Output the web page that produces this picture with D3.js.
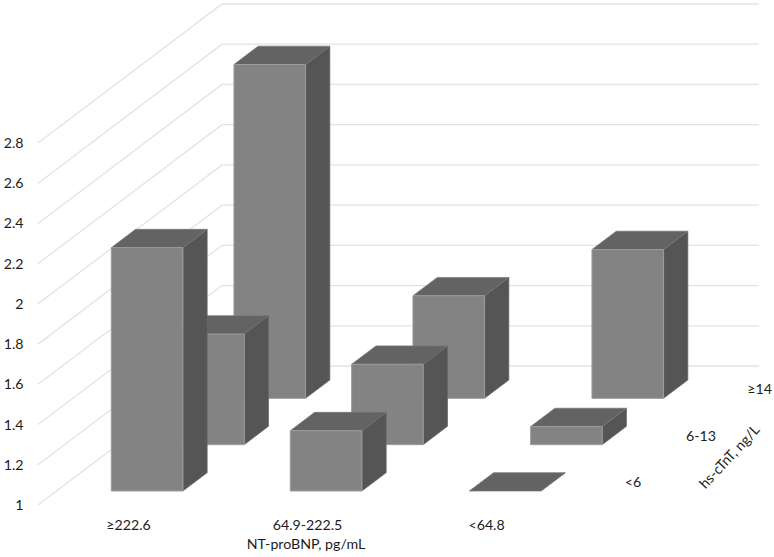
<!DOCTYPE html>
<html><head><meta charset="utf-8">
<script src="https://cdnjs.cloudflare.com/ajax/libs/d3/7.8.5/d3.min.js"></script>
<style>html,body{margin:0;padding:0;background:#fff}svg{display:block}text{font-family:Lato,sans-serif;fill:#1c1c1c}</style>
</head><body><svg id="c" width="774" height="557"></svg>
<script>
const bnpCategories = ["≥222.6", "64.9-222.5", "<64.8"];
const tntCategories = ["<6", "6-13", "≥14"];
const yTicks = [1, 1.2, 1.4, 1.6, 1.8, 2, 2.2, 2.4, 2.6, 2.8];
const valuesTntLow = [2.21, 1.30, 1.00];
const valuesTntMid = [1.55, 1.40, 1.09];
const valuesTntHigh = [2.66, 1.51, 1.74];
const valueRows = [valuesTntLow, valuesTntMid, valuesTntHigh];
const xTitle = "NT-proBNP, pg/mL";
const depthTitle = "hs-cTnT, ng/L";

const W = 774, H = 557;
const svg = d3.select("#c").attr("viewBox", [0, 0, W, H]);

const y = d3.scaleLinear().domain([1, 2.8]).range([505, 143]);
const x = d3.scaleBand().domain(bnpCategories).range([38, 575]).paddingInner(0.6).paddingOuter(0.3).align(0.51);
const depth = d3.scaleBand().domain(tntCategories).range([0, 1]).paddingInner(0.604).paddingOuter(0.302);
const depthDX = d3.scaleLinear().domain([0, 1]).range([0, 184]);
const depthDY = d3.scaleLinear().domain([0, 1]).range([0, 139]);

const pt = (px, py, d) => [px + depthDX(d), py - depthDY(d)];
const poly = pts => "M" + pts.map(p => p.join(",")).join("L") + "Z";

const grid = svg.append("g").attr("fill", "none").attr("stroke", "#e3e3e3").attr("stroke-width", 1.3);
yTicks.forEach(t => {
  const a = pt(38, y(t), 0), b = pt(38, y(t), 1), c = pt(575, y(t), 1);
  grid.append("path").attr("d", `M${a}L${b}L${c}`);
});

const rowOrder = d3.range(tntCategories.length).reverse();
rowOrder.forEach(r => {
  const dn = depth(tntCategories[r]), df = dn + depth.bandwidth();
  bnpCategories.forEach((cat, c) => {
    const v = valueRows[r][c];
    const x0 = x(cat), x1 = x0 + x.bandwidth();
    const yb = y(1), yt = y(v);
    const g = svg.append("g").attr("stroke-linejoin", "round");
    g.append("path").attr("d", poly([pt(x1, yt, dn), pt(x1, yt, df), pt(x1, yb, df), pt(x1, yb, dn)]))
      .attr("fill", "#555555").attr("stroke", "#686868").attr("stroke-width", 0.7);
    g.append("path").attr("d", poly([pt(x0, yt, dn), pt(x1, yt, dn), pt(x1, yt, df), pt(x0, yt, df)]))
      .attr("fill", "#636363").attr("stroke", "#777777").attr("stroke-width", 0.7);
    if (v > 1) g.append("path").attr("d", poly([pt(x0, yb, dn), pt(x1, yb, dn), pt(x1, yt, dn), pt(x0, yt, dn)]))
      .attr("fill", "#838383").attr("stroke", "#9c9c9c").attr("stroke-width", 1);
  });
});

const fs = 14.2;
svg.append("g").selectAll("text").data(yTicks).join("text")
  .attr("x", 23.5).attr("y", d => y(d)).attr("dy", "0.35em").attr("text-anchor", "end").attr("font-size", fs)
  .text(d => String(d));

svg.append("g").selectAll("text").data(bnpCategories).join("text")
  .attr("x", d => x(d) + x.bandwidth() / 2).attr("y", 530).attr("text-anchor", "middle").attr("font-size", fs)
  .text(d => d);
svg.append("text").attr("x", 306).attr("y", 549).attr("text-anchor", "middle").attr("font-size", fs).text(xTitle);

svg.append("g").selectAll("text").data(tntCategories).join("text")
  .attr("x", d => pt(575, 0, depth(d) + depth.bandwidth() / 2)[0] + 19)
  .attr("y", d => pt(0, 505, depth(d) + depth.bandwidth() / 2)[1] + 5)
  .attr("text-anchor", "start").attr("font-size", fs).text(d => d);

svg.append("text").attr("transform", "translate(733,460) rotate(-47)")
  .attr("text-anchor", "middle").attr("font-size", fs).text(depthTitle);
</script></body></html>
